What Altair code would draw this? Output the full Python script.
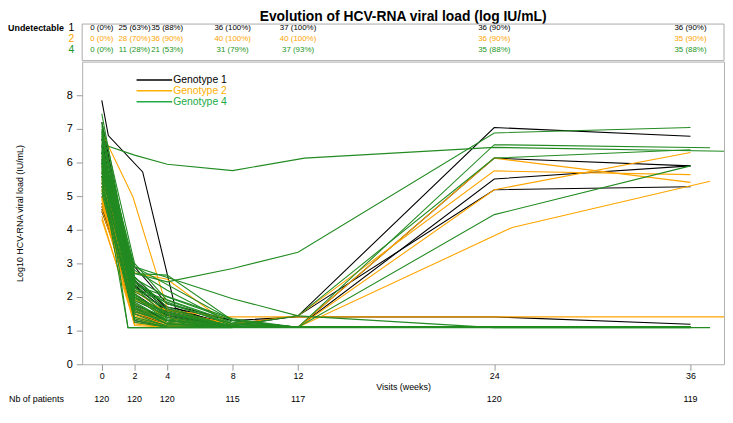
import altair as alt
import pandas as pd

FONT = "Liberation Sans, Arial, sans-serif"
VISITS = [0, 2, 4, 8, 12, 24, 36]

# ---- Genotype 1 (black): values at nominal visits (None = missing)
G1_ROWS = [
    [4.62, 2.45, 1.62, 1.10, 1.10, 1.10, 1.10],
    [4.55, 1.90, 1.45, 1.10, 1.10, 1.10, 1.10],
    [5.30, 2.20, 1.50, 1.10, 1.10, 1.10, 1.10],
    [5.90, 2.90, 1.80, 1.30, 1.10, 1.10, 1.10],
    [6.30, 2.60, 1.65, 1.20, 1.10, 1.10, 1.10],
    [6.70, 1.60, 1.10, 1.10, 1.10, 1.10, 1.10],
    [5.60, 1.50, 1.20, 1.10, 1.10, 1.10, 1.10],
    [6.10, 2.10, 1.45, 1.10, 1.10, 1.10, 1.10],
    [5.00, 1.75, 1.30, 1.10, 1.10, 1.10, 1.10],
    [4.80, 1.30, 1.10, 1.10, 1.10, 1.10, 1.10],
    [6.50, 2.35, 1.55, 1.10, 1.10, 1.10, 1.10],
    [7.20, 2.30, 1.60, 1.20, 1.44, 7.04, 6.78],
    [6.00, 1.80, 1.30, 1.10, 1.10, 6.13, 5.90],
    [5.70, 2.00, 1.40, 1.10, 1.10, 5.51, 5.90],
    [4.70, 1.65, 1.30, 1.15, 1.44, 5.19, 5.28],
    [5.40, 2.50, 1.70, 1.30, 1.41, 1.41, 1.19],
]
G1_IRR_T = [[0, 0.4, 2.5, 4.5, 8, 12, 24, 36]]
G1_IRR_V = [[7.85, 6.80, 5.72, 1.67, 1.10, 1.10, 1.10, 1.10]]

# ---- Genotype 2 (orange)
G2_ROWS = [
    [5.90, 2.10, 1.30, 1.10, 1.10, 1.10, 1.10],
    [5.60, 1.50, 1.15, 1.10, 1.10, 1.10, 1.10],
    [5.40, 1.80, 1.20, 1.10, 1.10, 1.10, 1.10],
    [5.20, 1.25, 1.10, 1.10, 1.10, 1.10, 1.10],
    [5.00, 2.00, 1.40, 1.10, 1.10, 1.10, 1.10],
    [4.80, 1.40, 1.10, 1.10, 1.10, 1.10, 1.10],
    [4.60, 1.60, 1.25, 1.10, 1.10, 1.10, 1.10],
    [4.40, 1.20, 1.10, 1.10, 1.10, 1.10, 1.10],
    [4.30, 1.35, 1.15, 1.10, 1.10, 1.10, 1.10],
    [6.20, 2.72, 2.53, 1.10, 1.10, 1.10, 1.10],
    [5.75, 1.95, 1.60, 1.20, 1.10, 1.10, 1.10],
    [4.95, 1.15, 1.10, 1.10, 1.10, 1.10, 1.10],
    [5.30, 1.70, 1.20, 1.10, 1.10, 6.13, 5.41],
    [4.70, 2.20, 1.50, 1.20, 1.44, 5.75, 5.64],
    [5.50, 1.45, 1.10, 1.10, 1.10, 5.19, 6.30],
]
G2_IRR_T = [
    [0, 2, 4, 8, 12, 25.1, 37.2],
    [0, 1.9, 4.2, 8, 12, 24, 36],
    [0, 2, 4, 7.3, 12, 24, 39],
]
G2_IRR_V = [
    [4.90, 1.55, 1.20, 1.10, 1.10, 4.07, 5.44],
    [6.90, 4.98, 1.35, 1.10, 1.10, 1.10, 1.10],
    [5.15, 1.90, 1.62, 1.41, 1.41, 1.41, 1.41],
]

# ---- Genotype 4 (green)
G4_ROWS = [
    [7.45, 2.30, 1.40, 1.10, 1.10, 1.10, 1.10],
    [7.20, 3.00, 1.90, 1.20, 1.10, 1.10, 1.10],
    [7.00, 2.70, 2.65, 1.30, 1.10, 1.10, 1.10],
    [6.90, 2.50, 1.60, 1.10, 1.10, 1.10, 1.10],
    [6.80, 2.20, None, 1.15, 1.10, 1.10, 1.10],
    [6.70, 2.90, None, 1.30, 1.10, 1.10, 1.10],
    [6.60, 1.80, 1.25, 1.10, 1.10, 1.10, 1.10],
    [6.50, 2.60, 1.70, 1.10, 1.10, 1.10, 1.10],
    [6.40, 2.00, 1.30, 1.10, 1.10, 1.10, 1.10],
    [6.30, 1.50, 1.10, 1.10, 1.10, 1.10, 1.10],
    [6.20, 2.80, 2.20, 1.20, 1.10, 1.10, 1.10],
    [6.10, 2.40, 1.50, 1.10, 1.10, 1.10, 1.10],
    [6.00, 1.70, 1.20, 1.10, 1.10, 1.10, 1.10],
    [5.90, 2.10, 1.35, 1.10, 1.10, 1.10, 1.10],
    [5.80, 1.40, 1.15, 1.10, 1.10, 1.10, 1.10],
    [5.70, 2.25, None, 1.25, 1.10, 1.10, 1.10],
    [5.60, 1.90, 1.45, 1.10, 1.10, 1.10, 1.10],
    [5.50, 1.30, 1.10, 1.10, 1.10, 1.10, 1.10],
    [5.40, 2.00, 1.55, 1.10, 1.10, 1.10, 1.10],
    [5.30, 1.60, 1.20, 1.10, 1.10, 1.10, 1.10],
    [5.20, 1.55, 1.30, 1.10, 1.10, 1.10, 1.10],
    [5.10, 1.35, 1.10, 1.10, 1.10, 1.10, 1.10],
    [6.95, 1.95, 1.50, 1.15, 1.10, 1.10, 1.10],
    [6.55, 2.15, 1.65, 1.10, 1.10, 1.10, 1.10],
    [6.15, 1.75, 1.40, 1.10, 1.10, 1.10, 1.10],
    [5.75, 2.45, 1.80, 1.20, 1.10, 1.10, 1.10],
    [7.10, 1.65, 1.20, 1.10, 1.10, 1.10, 1.10],
    [6.85, 2.35, None, 1.35, 1.10, 1.10, 1.10],
    [6.35, 1.25, 1.10, 1.10, 1.10, 1.10, 1.10],
    [5.95, 2.55, 2.00, 1.30, 1.10, 1.10, 1.10],
    [6.75, 2.70, 2.45, 2.85, 3.33, 6.88, 7.04],
    [5.85, 2.05, 1.50, 1.15, 1.44, 6.13, 6.38],
    [6.05, 1.85, 1.30, 1.10, 1.10, 4.45, 5.90],
    [6.00, 2.90, None, 1.95, 1.44, 1.09, 1.09],
]
G4_IRR_T = [
    [0, 0.4, 2, 4, 8, 12.4, 24, 39],
    [0, 1.6, 4, 8, 12, 24, 37.2],
    [0, 1.6, 4, 8],
    [0, 2, 4, 8, 12, 24, 37.2],
]
G4_IRR_V = [
    [6.60, 6.48, 6.22, 5.95, 5.76, 6.13, 6.45, 6.33],
    [6.30, 1.09, 1.09, 1.09, 1.09, 1.09, 1.09],
    [5.60, 1.09, 1.09, 1.09],
    [6.45, 1.70, 1.30, 1.10, 1.10, 6.53, 6.44],
]

# ---- Annotation texts
UND_G1 = ["0 (0%)", "25 (63%)", "35 (88%)", "36 (100%)", "37 (100%)", "36 (90%)", "36 (90%)"]
UND_G2 = ["0 (0%)", "28 (70%)", "36 (90%)", "40 (100%)", "40 (100%)", "36 (90%)", "35 (90%)"]
UND_G4 = ["0 (0%)", "11 (28%)", "21 (53%)", "31 (79%)", "37 (93%)", "35 (88%)", "35 (88%)"]
NB_PATIENTS = [120, 120, 120, 115, 117, 120, 119]
LEGEND_LABELS = ["Genotype 1", "Genotype 2", "Genotype 4"]
ROW_IDS = ["1", "2", "4"]

LINE_COLORS = ["#000000", "#FFA500", "#228B22"]
TEXT_COLORS = ["#000000", "#FFA500", "#1E961E"]
LEG_COLORS = ["#000000", "#FFB000", "#22AA44"]

W, H = 649, 306


def build(rows, irr_t, irr_v, g):
    recs = []
    pid = 0
    for r in rows:
        for w, v in zip(VISITS, r):
            if v is not None:
                recs.append({"pid": f"{g}-{pid}", "week": w, "value": v})
        pid += 1
    for ts, vs in zip(irr_t, irr_v):
        for w, v in zip(ts, vs):
            recs.append({"pid": f"{g}-{pid}", "week": w, "value": v})
        pid += 1
    return pd.DataFrame(recs)


xs = alt.Scale(domain=[-1.2, 38.05], nice=False, zero=False)
ys = alt.Scale(domain=[0, 9], nice=False, zero=True)
xa = alt.Axis(values=VISITS, title="Visits (weeks)", tickSize=6, tickColor="#999999",
              labelFontSize=9, labelPadding=1, titleFontSize=9, titleFontWeight="normal",
              titlePadding=3, domain=False, grid=False, labelFont=FONT, titleFont=FONT,
              labelColor="#000000", titleColor="#000000", labelFlush=False)
ya = alt.Axis(values=[0, 1, 2, 3, 4, 5, 6, 7, 8], title="Log10 HCV-RNA viral load (IU/mL)",
              tickSize=6, tickColor="#999999", labelFontSize=11, labelPadding=4,
              titleFontSize=9, titleFontWeight="normal", titlePadding=42, domain=False,
              grid=False, labelFont=FONT, titleFont=FONT, labelColor="#000000",
              titleColor="#000000")

X = alt.X("week:Q", scale=xs, axis=xa)
Y = alt.Y("value:Q", scale=ys, axis=ya)

layers = []
for (rows, it, iv, g), col in zip(
        [(G1_ROWS, G1_IRR_T, G1_IRR_V, "g1"), (G2_ROWS, G2_IRR_T, G2_IRR_V, "g2"),
         (G4_ROWS, G4_IRR_T, G4_IRR_V, "g4")], LINE_COLORS):
    df = build(rows, it, iv, g)
    layers.append(
        alt.Chart(df).mark_line(color=col, strokeWidth=1.1, clip=True).encode(
            x=X, y=Y, detail="pid:N", order="week:Q"))

one = pd.DataFrame({"k": [0]})

# title
layers.append(alt.Chart(one).mark_text(text="Evolution of HCV-RNA viral load (log IU/mL)",
                                       font=FONT, fontSize=14, fontWeight="bold",
                                       align="center", baseline="middle", color="#000000")
              .encode(x=alt.value(W / 2), y=alt.value(-45)))
# annotation box
layers.append(alt.Chart(one).mark_rect(fill="#ffffff", fillOpacity=0, stroke="#AAAAAA",
                                       strokeWidth=1)
              .encode(x=alt.value(0), x2=alt.value(W), y=alt.value(-38), y2=alt.value(-1)))

row_y = [-34, -23, -11.5]
for labels, col, yy, rid in zip([UND_G1, UND_G2, UND_G4], TEXT_COLORS, row_y, ROW_IDS):
    d = pd.DataFrame({"week": VISITS, "label": labels})
    layers.append(alt.Chart(d).mark_text(font=FONT, fontSize=8, align="center",
                                         baseline="middle", color=col)
                  .encode(x=X, y=alt.value(yy), text="label:N"))
    layers.append(alt.Chart(one).mark_text(text=rid, font=FONT, fontSize=10.5, align="center",
                                           baseline="middle", color=col)
                  .encode(x=alt.value(-11), y=alt.value(yy)))
layers.append(alt.Chart(one).mark_text(text="Undetectable", font=FONT, fontSize=9,
                                       fontWeight="bold", align="right", baseline="middle",
                                       color="#000000")
              .encode(x=alt.value(-18.5), y=alt.value(row_y[0])))

# legend
leg_y = [18.5, 29.5, 40.5]
for lab, col, yy in zip(LEGEND_LABELS, LEG_COLORS, leg_y):
    layers.append(alt.Chart(one).mark_rule(color=col, strokeWidth=1.5)
                  .encode(x=alt.value(55), x2=alt.value(91), y=alt.value(yy)))
    layers.append(alt.Chart(one).mark_text(text=lab, font=FONT, fontSize=10.5, align="left",
                                           baseline="middle", color=col)
                  .encode(x=alt.value(92), y=alt.value(yy)))

# number of patients
nb = pd.DataFrame({"week": VISITS, "n": [str(v) for v in NB_PATIENTS]})
layers.append(alt.Chart(nb).mark_text(font=FONT, fontSize=9, align="center",
                                      baseline="middle", color="#000000")
              .encode(x=X, y=alt.value(H + 35), text="n:N"))
layers.append(alt.Chart(one).mark_text(text="Nb of patients", font=FONT, fontSize=9,
                                       align="left", baseline="middle", color="#000000")
              .encode(x=alt.value(-74), y=alt.value(H + 35)))

chart = alt.layer(*layers).properties(
    width=W, height=H,
    autosize=alt.AutoSizeParams(type="none"),
    padding={"left": 75, "top": 52, "right": 1, "bottom": 43},
).configure_view(stroke="#B0B0B0", strokeWidth=1)

chart.save("out.html", embed_options={"renderer": "svg", "actions": False})
